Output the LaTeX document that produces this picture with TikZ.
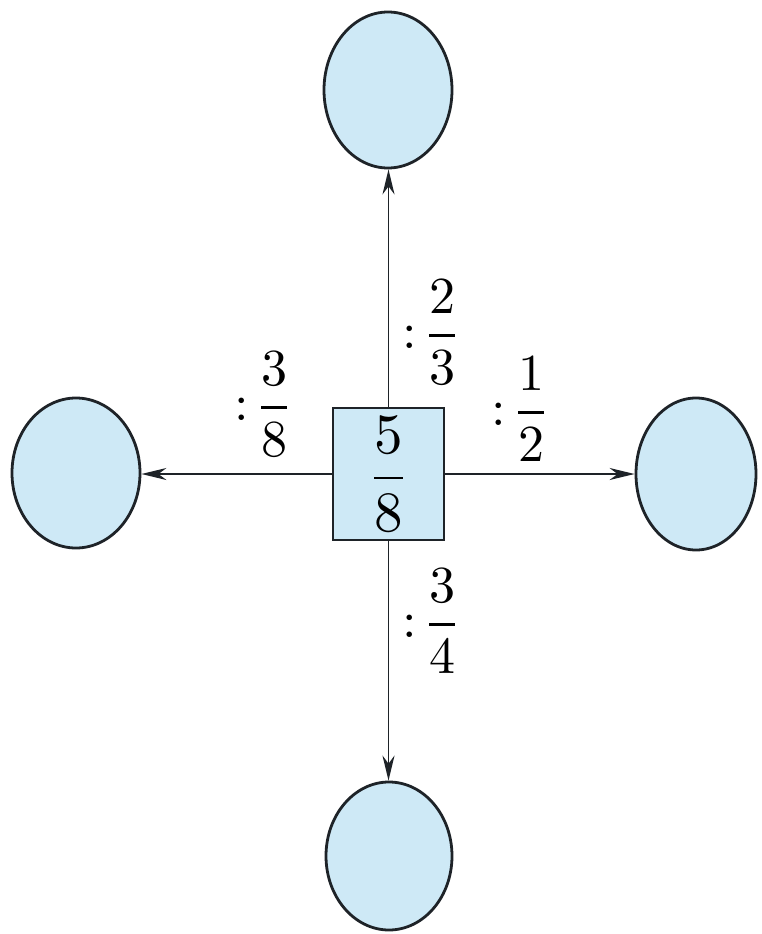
\documentclass[tikz,border=0pt]{standalone}
\usepackage{amsmath}
\usepackage{graphicx}
\usetikzlibrary{shapes.geometric,arrows.meta}
\definecolor{cellblue}{RGB}{206,233,246}
\definecolor{inkline}{RGB}{30,35,40}
\newcommand{\bigfrac}[2]{\scalebox{5.7}{$\dfrac{#1}{#2}$}}
\newcommand{\ratiofrac}[2]{\scalebox{5.2}{${:}\mskip2mu\dfrac{#1}{#2}$}}
\begin{document}
\begin{tikzpicture}[x=1pt,y=-1pt,
  blob/.style={ellipse,draw=inkline,line width=2.8pt,fill=cellblue,inner sep=0pt},
  core/.style={rectangle,draw=inkline,line width=2pt,fill=cellblue,inner sep=0pt,
    minimum width=111pt,minimum height=132pt},
  link/.style={draw=inkline,line width=1.8pt,-{Stealth[length=25pt,width=12pt,inset=8pt]}},
  ratio/.style={inner sep=0pt}]
\useasboundingbox[fill=white] (0,0) rectangle (761,934);
\node[core] (box) at (388.5,474) {\bigfrac{5}{8}};
\node[blob,minimum width=128pt,minimum height=156pt] (top) at (388,90) {};
\node[blob,minimum width=126pt,minimum height=148pt] (bot) at (389,856) {};
\node[blob,minimum width=128pt,minimum height=150pt] (lft) at (76,473) {};
\node[blob,minimum width=120pt,minimum height=152pt] (rgt) at (696,474) {};
\draw[link] (box.north) -- (box.north |- top.south);
\draw[link] (box.south) -- (box.south |- bot.north);
\draw[link] (box.west) -- (lft.east |- box.west);
\draw[link] (box.east) -- (rgt.west |- box.east);
\node[ratio] (lt) at (432,332) {\ratiofrac{2}{3}};
\node[ratio] (ll) at (264,404) {\ratiofrac{3}{8}};
\node[ratio] (lr) at (521,409) {\ratiofrac{1}{2}};
\node[ratio] (lb) at (432,621) {\ratiofrac{3}{4}};
\end{tikzpicture}
\end{document}
